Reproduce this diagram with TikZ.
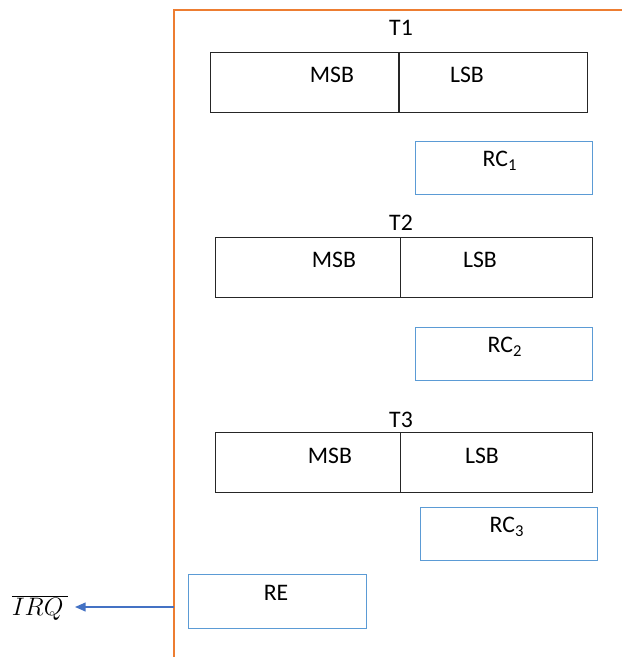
\documentclass[tikz,border=0pt]{standalone}
\usepackage{fontspec}
\setmainfont{Carlito}
\usetikzlibrary{arrows.meta}
\definecolor{frameorange}{RGB}{237,125,49}
\definecolor{rcblue}{RGB}{91,155,213}
\definecolor{arrowblue}{RGB}{68,114,196}
\tikzset{
  regbox/.style={draw=black!85, line width=0.8pt, minimum height=1.2cm, minimum width=3.77cm, inner sep=0pt},
  rcbox/.style={draw=rcblue, line width=0.8pt, minimum height=1.06cm, minimum width=3.54cm, inner sep=0pt},
  lbl/.style={inner sep=0pt, font=\fontsize{13.5}{15}\selectfont}
}
\begin{document}
\begin{tikzpicture}[x=0.02cm,y=-0.02cm]
    \useasboundingbox (0,0) rectangle (622,657);
    % frame
    \draw[frameorange, line width=1pt] (622,10) -- (174,10) -- (174,657);
    % timer registers
    \node[regbox, anchor=north west] (t1msb) at (210,52) {};
    \node[regbox, anchor=north west, minimum width=3.76cm] (t1lsb) at (399,52) {};
    \node[regbox, anchor=north west, minimum width=3.70cm] (t2msb) at (215,237) {};
    \node[regbox, anchor=north west, minimum width=3.84cm] (t2lsb) at (400,237) {};
    \node[regbox, anchor=north west, minimum width=3.70cm] (t3msb) at (215,432) {};
    \node[regbox, anchor=north west, minimum width=3.84cm] (t3lsb) at (400,432) {};
    \node[lbl] (t1) at (401,28) {T1};
    \node[lbl] (t2) at (401,223) {T2};
    \node[lbl] (t3) at (401,420) {T3};
    \node[lbl] at (332,75) {MSB};
    \node[lbl] at (467,75) {LSB};
    \node[lbl] at (334,260) {MSB};
    \node[lbl] at (480,260) {LSB};
    \node[lbl] at (330,456) {MSB};
    \node[lbl] at (482,456) {LSB};
    % reload / control registers
    \node[rcbox, anchor=north west] (rc1) at (415,141) {};
    \node[rcbox, anchor=north west] (rc2) at (415,327) {};
    \node[rcbox, anchor=north west] (rc3) at (420,507) {};
    \node[rcbox, anchor=north west, minimum width=3.56cm, minimum height=1.08cm] (re) at (188,574) {};
    \node[lbl] at (500,161) {RC\textsubscript{1}};
    \node[lbl] at (505,347) {RC\textsubscript{2}};
    \node[lbl] at (507,527) {RC\textsubscript{3}};
    \node[lbl] at (276,593) {RE};
    % interrupt line
    \coordinate (irqout) at (174,607);
    \node[inner sep=0pt, anchor=east, font=\fontsize{14}{16}\selectfont] (irq) at (68,608) {$\overline{IRQ\,}$};
    \draw[arrowblue, line width=0.8pt, -{Triangle[length=6pt,width=5pt]}, shorten >=0.14cm] (irqout) -- (irq.east |- irqout);
\end{tikzpicture}
\end{document}
